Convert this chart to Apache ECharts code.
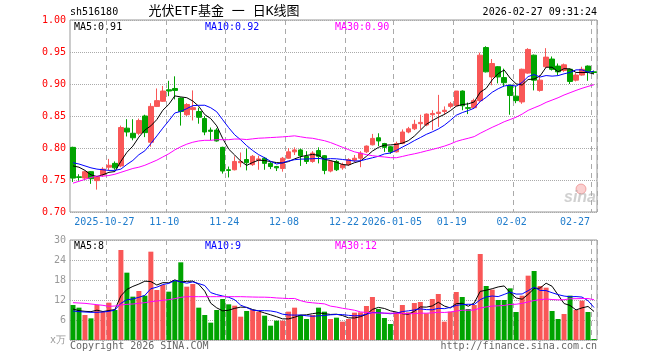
<!DOCTYPE html>
<html><head><meta charset="utf-8">
<script src="https://cdn.jsdelivr.net/npm/echarts@6/dist/echarts.min.js"></script>
<style>html,body{margin:0;padding:0;background:#fff}#c{width:660px;height:360px}</style>
</head><body><div id="c"></div>
<script>
const dates = ['2025-10-17','2025-10-20','2025-10-21','2025-10-22','2025-10-23','2025-10-24','2025-10-27','2025-10-28','2025-10-29','2025-10-30',
'2025-10-31','2025-11-03','2025-11-04','2025-11-05','2025-11-06','2025-11-07','2025-11-10','2025-11-11','2025-11-12','2025-11-13',
'2025-11-14','2025-11-17','2025-11-18','2025-11-19','2025-11-20','2025-11-21','2025-11-24','2025-11-25','2025-11-26','2025-11-27',
'2025-11-28','2025-12-01','2025-12-02','2025-12-03','2025-12-04','2025-12-05','2025-12-08','2025-12-09','2025-12-10','2025-12-11',
'2025-12-12','2025-12-15','2025-12-16','2025-12-17','2025-12-18','2025-12-19','2025-12-22','2025-12-23','2025-12-24','2025-12-25',
'2025-12-26','2025-12-29','2025-12-30','2025-12-31','2026-01-05','2026-01-06','2026-01-07','2026-01-08','2026-01-09','2026-01-12',
'2026-01-13','2026-01-14','2026-01-15','2026-01-16','2026-01-19','2026-01-20','2026-01-21','2026-01-22','2026-01-23','2026-01-26',
'2026-01-27','2026-01-28','2026-01-29','2026-01-30','2026-02-02','2026-02-03','2026-02-04','2026-02-05','2026-02-06','2026-02-09',
'2026-02-10','2026-02-11','2026-02-12','2026-02-13','2026-02-24','2026-02-25','2026-02-26','2026-02-27'];

const opens = [.801,.755,.753,.763,.749,.758,.770,.776,.772,.831,
 .823,.823,.850,.809,.865,.873,.891,.893,.878,.852,
 .860,.857,.846,.828,.828,.801,.766,.766,.777,.782,
 .774,.781,.784,.776,.771,.768,.784,.794,.797,.787,
 .779,.796,.788,.764,.779,.769,.774,.781,.784,.794,
 .805,.816,.807,.802,.794,.807,.825,.830,.838,.836,
 .852,.854,.857,.865,.866,.889,.863,.863,.874,.957,
 .911,.927,.910,.898,.881,.872,.917,.945,.890,.927,
 .939,.928,.921,.923,.906,.914,.928,.919];
const closes = [.753,.754,.763,.752,.755,.767,.773,.769,.832,.825,
 .816,.843,.824,.865,.874,.889,.889,.890,.857,.868,
 .863,.848,.825,.826,.811,.764,.765,.779,.779,.777,
 .787,.783,.776,.771,.769,.784,.794,.797,.788,.779,
 .792,.787,.765,.779,.766,.774,.782,.784,.792,.803,
 .815,.811,.801,.794,.807,.825,.830,.837,.840,.853,
 .854,.856,.859,.869,.889,.866,.862,.874,.945,.919,
 .932,.911,.902,.882,.874,.923,.954,.906,.906,.942,
 .923,.919,.930,.904,.914,.923,.919,.918];
const lows = [.747,.749,.751,.744,.735,.755,.765,.766,.770,.818,
 .812,.820,.817,.802,.864,.872,.881,.876,.835,.850,
 .843,.838,.820,.812,.810,.760,.754,.765,.770,.765,
 .772,.766,.766,.767,.764,.763,.783,.789,.772,.775,
 .777,.776,.759,.762,.764,.766,.772,.778,.770,.792,
 .804,.803,.794,.791,.793,.806,.823,.828,.829,.834,
 .828,.833,.852,.862,.865,.859,.853,.862,.872,.918,
 .898,.901,.896,.852,.870,.869,.916,.890,.888,.925,
 .921,.914,.919,.900,.904,.913,.905,.916];
const highs = [.802,.759,.764,.764,.756,.770,.783,.779,.835,.845,
 .845,.846,.852,.870,.893,.897,.905,.912,.879,.870,
 .890,.863,.850,.832,.831,.802,.771,.787,.793,.799,
 .789,.788,.786,.778,.772,.786,.800,.801,.799,.795,
 .795,.801,.789,.781,.781,.777,.784,.789,.795,.804,
 .822,.823,.808,.803,.810,.829,.833,.844,.852,.854,
 .859,.883,.865,.872,.889,.890,.871,.877,.949,.959,
 .939,.928,.924,.899,.897,.924,.956,.946,.914,.956,
 .943,.932,.932,.924,.917,.927,.929,.921];
// volume in 万 (x10k)
const volumes = [10.5, 9.7, 7.5, 6.5, 10.5, 8.5, 11.2, 9.0, 27.0, 20.2,
 13.0, 14.7, 13.3, 26.5, 15.0, 16.5, 14.5, 17.7, 23.3, 16.0,
 16.8, 9.7, 7.5, 5.2, 9.0, 12.3, 10.7, 10.3, 7.0, 8.7,
 9.0, 8.5, 7.3, 4.3, 5.8, 5.8, 8.5, 9.7, 7.5, 6.3,
 7.5, 9.7, 8.5, 6.3, 6.7, 5.5, 6.3, 8.2, 8.3, 10.2,
 12.9, 9.3, 6.6, 4.8, 8.3, 10.5, 8.3, 11.1, 11.4, 8.0,
 12.3, 13.8, 5.5, 8.5, 14.4, 12.9, 9.3, 10.5, 25.8, 16.2,
 15.1, 12.0, 12.0, 15.5, 8.4, 13.3, 19.3, 20.7, 16.2, 15.7,
 8.7, 6.3, 7.8, 13.3, 9.0, 11.8, 8.4, 0.3];

// moving-average values for the first days (window reaches before the visible range)
const ma5Lead = [0.772, 0.770, 0.765, 0.758];
const ma10Lead = [0.777, 0.775, 0.772, 0.769, 0.767, 0.766, 0.765, 0.765, 0.767];
const ma30Lead = [0.745, 0.748, 0.751, 0.754, 0.756, 0.756, 0.757, 0.759, 0.762, 0.765, 0.768, 0.770, 0.773, 0.777, 0.781,
 0.786, 0.791, 0.797, 0.802, 0.806, 0.809, 0.811, 0.812, 0.812, 0.813, 0.813, 0.813, 0.814, 0.814];
const vma5Lead = [9.3, 8.8, 8.6, 8.5];
const vma10Lead = [8.7, 8.5, 8.4, 8.3, 8.3, 8.4, 8.6, 9.0, 11.0];
const vma30Lead = [11.2, 11.1, 11.0, 10.8, 10.6, 10.4, 10.1, 10.2, 10.5, 10.7, 10.8, 11.0, 11.2, 11.5, 11.7,
 11.9, 12.1, 12.4, 12.8, 13.0, 13.0, 13.0, 13.0, 13.0, 13.0, 13.0, 13.0, 13.0, 13.0];

const xTickDates = ['2025-10-27','2025-11-10','2025-11-24','2025-12-08','2025-12-22','2026-01-05','2026-01-19','2026-02-02','2026-02-27'];
const xTickLabels = ['2025-10-27','11-10','11-24','12-08','12-22','2026-01-05','01-19','02-02','02-27'];
const priceMin = 0.70, priceMax = 1.00, priceStep = 0.05;
const volMin = 0, volMax = 30, volStep = 6;

const headerCode = 'sh516180';
const headerTitle = '光伏ETF基金 一 日K线图';
const headerTime = '2026-02-27 09:31:24';
const priceMaLabels = ['MA5:0.91', 'MA10:0.92', 'MA30:0.90'];
const volMaLabels = ['MA5:8', 'MA10:9', 'MA30:12'];

const UP = '#f95757', DOWN = '#00a300';
const MONO = "'DejaVu Sans Mono', monospace";

function movingAvg(vals, n, lead) {
  return vals.map((v, i) => {
    if (i < n - 1) return lead[i];
    let s = 0;
    for (let k = i - n + 1; k <= i; k++) s += vals[k];
    return +(s / n).toFixed(4);
  });
}

const tickIdx = xTickDates.map(d => dates.indexOf(d));
const lastTick = tickIdx[tickIdx.length - 1];

const chart = echarts.init(document.getElementById('c'), null, {renderer: 'canvas'});

const splitX = {show: true, interval: (i) => tickIdx.includes(i), lineStyle: {color: '#aaa', width: 1, type: [5, 4]}};
const lineSeries = (name, data, color, xi, yi) => ({
  name, type: 'line', data, xAxisIndex: xi, yAxisIndex: yi, symbol: 'none', smooth: false,
  lineStyle: {color, width: 1}, itemStyle: {color}, emphasis: {disabled: true}, silent: true, z: 5
});

const option = {
  animation: false,
  backgroundColor: '#fff',
  grid: [
    {left: 70, right: 63, top: 20, height: 192, show: true, borderColor: '#999', borderWidth: 1, outerBoundsMode: 'none', containLabel: false},
    {left: 70, right: 63, top: 240, height: 100, show: true, borderColor: '#999', borderWidth: 1, outerBoundsMode: 'none', containLabel: false}
  ],
  xAxis: [
    {type: 'category', gridIndex: 0, data: dates, boundaryGap: true,
     axisLine: {show: false}, axisTick: {show: false},
     axisLabel: {interval: (i) => tickIdx.includes(i), margin: 5, fontFamily: MONO, fontSize: 10, color: '#1f7ccc',
       formatter: (v, i) => {
         const k = xTickDates.indexOf(v);
         const t = k >= 0 ? xTickLabels[k] : '';
         return (dates.indexOf(v) === lastTick ? '{e|' : '{c|') + t + '}';
       },
       rich: {
         c: {padding: [0, 9, 0, 0], fontFamily: MONO, fontSize: 10, color: '#1f7ccc'},
         e: {padding: [0, 38, 0, 0], fontFamily: MONO, fontSize: 10, color: '#1f7ccc'}
       }},
     splitLine: splitX},
    {type: 'category', gridIndex: 1, data: dates, boundaryGap: true,
     axisLine: {show: false}, axisTick: {show: false}, axisLabel: {show: false},
     splitLine: splitX}
  ],
  yAxis: [
    {type: 'value', gridIndex: 0, min: priceMin, max: priceMax, interval: priceStep, scale: true,
     axisLine: {show: false}, axisTick: {show: false},
     axisLabel: {color: '#ff0000', fontFamily: MONO, fontSize: 10, margin: 4, formatter: v => v.toFixed(2)},
     splitLine: {show: true, lineStyle: {color: '#aaa', type: 'dotted', width: 1}}},
    {type: 'value', gridIndex: 1, min: volMin, max: volMax, interval: volStep,
     axisLine: {show: false}, axisTick: {show: false},
     axisLabel: {color: '#999', fontFamily: MONO, fontSize: 10, margin: 4, formatter: v => v === 0 ? 'x万' : String(v)},
     splitLine: {show: true, lineStyle: {color: '#aaa', type: 'dotted', width: 1}}}
  ],
  series: [
    {type: 'candlestick', xAxisIndex: 0, yAxisIndex: 0, barWidth: 5,
     data: dates.map((d, i) => [opens[i], closes[i], lows[i], highs[i]]),
     itemStyle: {color: UP, color0: DOWN, borderColor: UP, borderColor0: DOWN, borderWidth: 1},
     emphasis: {disabled: true}, silent: true, z: 3},
    lineSeries('MA5', movingAvg(closes, 5, ma5Lead), '#000000', 0, 0),
    lineSeries('MA10', movingAvg(closes, 10, ma10Lead), '#0000ff', 0, 0),
    lineSeries('MA30', movingAvg(closes, 30, ma30Lead), '#ff00ff', 0, 0),
    {type: 'bar', xAxisIndex: 1, yAxisIndex: 1, barWidth: 5,
     data: volumes.map((v, i) => ({value: v, itemStyle: {color: closes[i] >= opens[i] ? UP : DOWN}})),
     emphasis: {disabled: true}, silent: true, z: 3},
    lineSeries('VMA5', movingAvg(volumes, 5, vma5Lead), '#000000', 1, 1),
    lineSeries('VMA10', movingAvg(volumes, 10, vma10Lead), '#0000ff', 1, 1),
    lineSeries('VMA30', movingAvg(volumes, 30, vma30Lead), '#ff00ff', 1, 1)
  ],
  graphic: [
    {type: 'text', left: 70, top: 7, style: {text: headerCode, font: '10px ' + MONO, fill: '#000'}},
    {type: 'text', x: 224, y: 12, style: {text: headerTitle, font: "13px 'DejaVu Sans Mono', 'Noto Sans CJK SC'", fill: '#000', align: 'center', verticalAlign: 'middle'}},
    {type: 'text', x: 597, y: 12, style: {text: headerTime, font: '10px ' + MONO, fill: '#000', align: 'right', verticalAlign: 'middle'}},
    {type: 'text', x: 74, y: 27, style: {text: priceMaLabels[0], font: '10px ' + MONO, fill: '#000', verticalAlign: 'middle'}},
    {type: 'text', x: 205, y: 27, style: {text: priceMaLabels[1], font: '10px ' + MONO, fill: '#0000ff', verticalAlign: 'middle'}},
    {type: 'text', x: 335, y: 27, style: {text: priceMaLabels[2], font: '10px ' + MONO, fill: '#ff00ff', verticalAlign: 'middle'}},
    {type: 'text', x: 74, y: 246.5, style: {text: volMaLabels[0], font: '10px ' + MONO, fill: '#000', verticalAlign: 'middle'}},
    {type: 'text', x: 205, y: 246.5, style: {text: volMaLabels[1], font: '10px ' + MONO, fill: '#0000ff', verticalAlign: 'middle'}},
    {type: 'text', x: 335, y: 246.5, style: {text: volMaLabels[2], font: '10px ' + MONO, fill: '#ff00ff', verticalAlign: 'middle'}},
    {type: 'text', x: 70, y: 346, style: {text: 'Copyright 2026 SINA.COM', font: '10px ' + MONO, fill: '#666', verticalAlign: 'middle'}},
    {type: 'text', x: 597, y: 346, style: {text: 'http://finance.sina.com.cn', font: '10px ' + MONO, fill: '#666', align: 'right', verticalAlign: 'middle'}},
    {type: 'circle', shape: {cx: 581, cy: 189, r: 5}, style: {fill: 'rgba(240,120,120,0.35)', stroke: 'rgba(230,100,100,0.5)', lineWidth: 1}, z: 1},
    {type: 'text', x: 596, y: 198, style: {text: 'sina', font: 'italic bold 16px Arial, sans-serif', fill: 'rgba(170,170,170,0.55)', align: 'right', verticalAlign: 'middle'}, z: 1}
  ]
};
chart.setOption(option);
</script></body></html>
